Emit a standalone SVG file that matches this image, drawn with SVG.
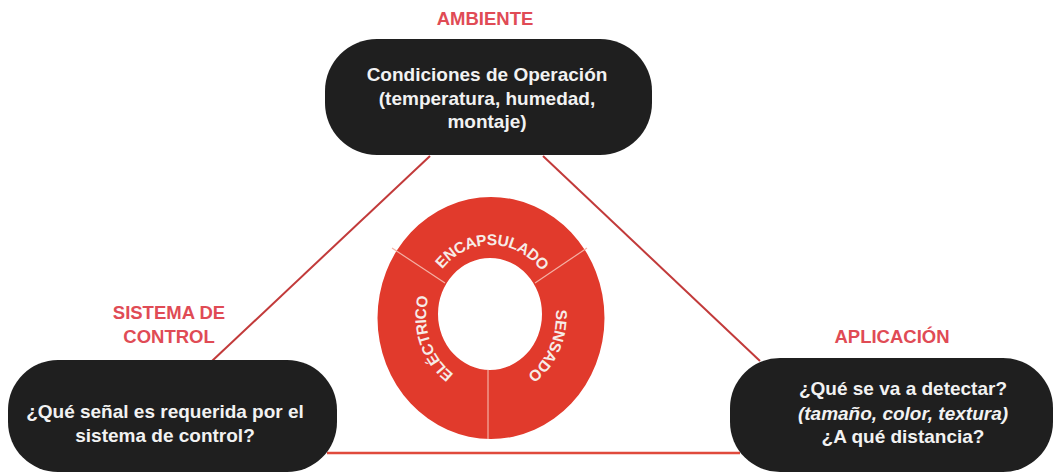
<svg xmlns="http://www.w3.org/2000/svg" width="1062" height="474" viewBox="0 0 1062 474">
<style>
.node{fill:#1f1f1f}
.ntext{font-family:"Liberation Sans",Arial,sans-serif;font-weight:bold;font-size:19px;fill:#f2f2f2;text-anchor:middle}
.label{font-family:"Liberation Sans",Arial,sans-serif;font-weight:bold;font-size:18.5px;fill:#e04b55;text-anchor:middle}
.conn{stroke:#c23a3a;stroke-width:2;fill:none}
.ringtext{font-family:"Liberation Sans",Arial,sans-serif;font-weight:bold;font-size:15.5px;letter-spacing:-0.4px;fill:#f6ece8;text-anchor:middle}
.div{stroke:#f4b0a4;stroke-width:1.2}
</style>
<defs>
<path id="ringPath" d="M 491,387 A 65 71 0 0 1 491,245 A 65 71 0 0 1 491,387"/>
</defs>
<rect width="1062" height="474" fill="#ffffff"/>
<g id="connectors">
<line class="conn" x1="430" y1="156" x2="212" y2="361"/>
<line class="conn" x1="543" y1="156" x2="760" y2="361"/>
<line class="conn" x1="327" y1="453" x2="740" y2="453" style="stroke:#e04a3c;stroke-width:2.5"/>
</g>
<g id="ring">
<path d="M 377.5,318 a113.5,121 0 1,0 227,0 a113.5,121 0 1,0 -227,0 Z M 438,314 a52,56 0 1,1 104,0 a52,56 0 1,1 -104,0 Z" fill="#e13a2c" fill-rule="evenodd"/>
<line class="div" x1="392" y1="248" x2="445" y2="283"/>
<line class="div" x1="535" y1="283" x2="587" y2="248"/>
<line class="div" x1="488" y1="370" x2="488" y2="439"/>
<text class="ringtext"><textPath href="#ringPath" startOffset="50.3%">ENCAPSULADO</textPath></text>
<text class="ringtext"><textPath href="#ringPath" startOffset="82.2%">SENSADO</textPath></text>
<text class="ringtext"><textPath href="#ringPath" startOffset="19.4%">ELÉCTRICO</textPath></text>
</g>
<g id="node-ambiente">
<text class="label" x="485" y="25">AMBIENTE</text>
<rect class="node" x="325" y="39" width="327" height="116" rx="52" ry="52"/>
<text class="ntext" x="487" y="81">Condiciones de Operación</text>
<text class="ntext" x="487" y="105">(temperatura, humedad,</text>
<text class="ntext" x="487" y="128">montaje)</text>
</g>
<g id="node-control">
<text class="label" x="169" y="319">SISTEMA DE</text>
<text class="label" x="169" y="343">CONTROL</text>
<rect class="node" x="8" y="360" width="329" height="112" rx="50" ry="50"/>
<text class="ntext" x="165" y="418">¿Qué señal es requerida por el</text>
<text class="ntext" x="165" y="442">sistema de control?</text>
</g>
<g id="node-aplicacion">
<text class="label" x="892" y="343">APLICACIÓN</text>
<rect class="node" x="730" y="358" width="323" height="114" rx="50" ry="50"/>
<text class="ntext" x="903" y="395">¿Qué se va a detectar?</text>
<text class="ntext" x="903" y="420" font-style="italic">(tamaño, color, textura)</text>
<text class="ntext" x="903" y="443">¿A qué distancia?</text>
</g>
</svg>
